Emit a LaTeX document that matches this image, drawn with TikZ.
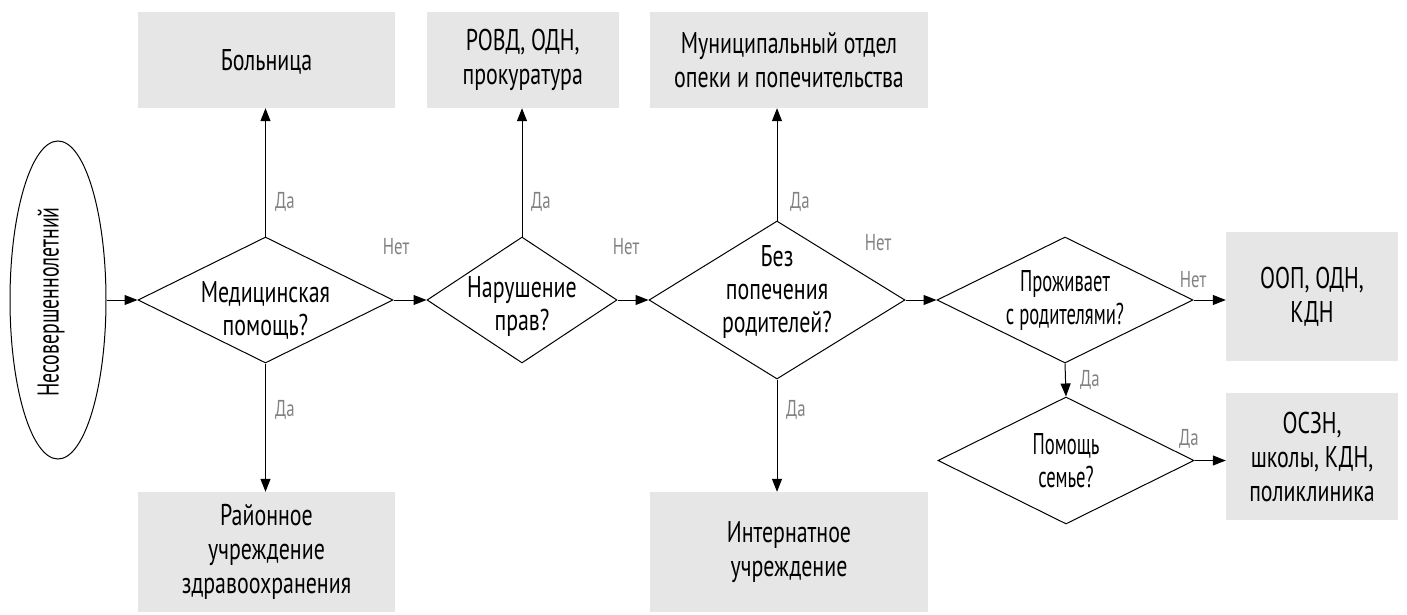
\documentclass[tikz,border=0pt]{standalone}
\usepackage{fontspec}
\setmainfont[FakeStretch=0.73]{PT Sans}
\newfontfamily\tightf[FakeStretch=0.62]{PT Sans}
\newfontfamily\ellf[FakeStretch=0.66]{PT Sans}
\usetikzlibrary{shapes.geometric,arrows.meta}
\definecolor{boxgray}{RGB}{230,230,230}
\definecolor{lblgray}{RGB}{130,130,130}
\newcommand{\mainf}{\fontsize{30}{33}\selectfont}
\newcommand{\boxf}{\fontsize{30}{34}\selectfont}
\newcommand{\tightfs}{\tightf\fontsize{30}{33}\selectfont}
\newcommand{\ellfs}{\ellf\fontsize{30}{33}\selectfont}
\newcommand{\lblf}{\fontsize{23}{26}\selectfont}
\tikzset{
  conn/.style={line width=1pt,-{Triangle[length=13pt,width=10pt]}},
  dia/.style={draw,line width=1pt,shape=diamond,inner sep=0pt},
  dtext/.style={align=center,font=\mainf,inner sep=0pt},
  ttext/.style={align=center,font=\tightfs,inner sep=0pt},
  box/.style={fill=boxgray,draw=none,align=center,font=\boxf,inner sep=0pt},
  lbl/.style={text=lblgray,font=\lblf,inner sep=0pt},
  ell/.style={draw,line width=1pt,shape=ellipse,inner sep=0pt}
}
\begin{document}
\begin{tikzpicture}[x=1pt,y=-1pt]
\useasboundingbox (0,0) rectangle (1407,615);
% start
\node[ell,minimum width=96pt,minimum height=318pt,
  label={[rotate=90,font=\ellfs,inner sep=0pt,xshift=-2pt,yshift=7pt]center:Несовершеннолетний}] (m) at (58,300) {};
% decisions
\node[dia,minimum width=255pt,minimum height=126pt,
  label={[dtext,yshift=-10pt]center:Медицинская\\помощь?}] (d1) at (265.5,300) {};
\node[dia,minimum width=190pt,minimum height=126pt,
  label={[dtext,yshift=-6pt]center:Нарушение\\прав?}] (d2) at (522,300) {};
\node[dia,minimum width=256pt,minimum height=158pt,
  label={[dtext,yshift=8pt]center:Без\\попечения\\родителей?}] (d3) at (777,300) {};
\node[dia,minimum width=256pt,minimum height=126pt,
  label={[ttext]center:Проживает\\с родителями?}] (d4) at (1065,300) {};
\node[dia,minimum width=256pt,minimum height=127pt,
  label={[ttext]center:Помощь\\семье?}] (d5) at (1066,460.5) {};
% boxes
\node[box,minimum width=257pt,minimum height=96pt,text depth=0pt] (b1) at (266.5,60) {Больница};
\node[box,minimum width=192.5pt,minimum height=96pt] (b2) at (522.75,60) {РОВД, ОДН,\\прокуратура};
\node[box,minimum width=278pt,minimum height=96pt] (b3) at (789,60) {Муниципальный отдел\\опеки и попечительства};
\node[box,minimum width=257pt,minimum height=120pt] (b4) at (266.5,552) {Районное\\учреждение\\здравоохранения};
\node[box,minimum width=278pt,minimum height=120pt] (b5) at (789,552) {Интернатное\\учреждение};
\node[box,minimum width=172pt,minimum height=129pt] (b6) at (1312,296.5) {ООП, ОДН,\\КДН};
\node[box,minimum width=172pt,minimum height=127pt] (b7) at (1312,456.5) {ОСЗН,\\школы, КДН,\\поликлиника};
% connectors
\draw[conn] (m.east) -- (d1.west);
\draw[conn] (d1.east) -- (d2.west);
\draw[conn] (d2.east) -- (d3.west);
\draw[conn] (d3.east) -- (d4.west);
\draw[conn] (d4.east) -- (d4.east -| b6.west);
\draw[conn] (d4.south) -- (d5.north);
\draw[conn] (d5.east) -- (d5.east -| b7.west);
\draw[conn] (d1.north) -- (d1.north |- b1.south);
\draw[conn] (d2.north) -- (d2.north |- b2.south);
\draw[conn] (d3.north) -- (d3.north |- b3.south);
\draw[conn] (d1.south) -- (d1.south |- b4.north);
\draw[conn] (d3.south) -- (d3.south |- b5.north);
% labels
\node[lbl] (l1) at (285,202) {Да};
\node[lbl] (l2) at (396,247) {Нет};
\node[lbl] (l3) at (285,410) {Да};
\node[lbl] (l4) at (541,202) {Да};
\node[lbl] (l5) at (626,247) {Нет};
\node[lbl] (l6) at (800,202) {Да};
\node[lbl] (l7) at (878,243) {Нет};
\node[lbl] (l8) at (796,410) {Да};
\node[lbl] (l9) at (1193,280) {Нет};
\node[lbl] (l10) at (1090,380) {Да};
\node[lbl] (l11) at (1189,439) {Да};
\end{tikzpicture}
\end{document}
